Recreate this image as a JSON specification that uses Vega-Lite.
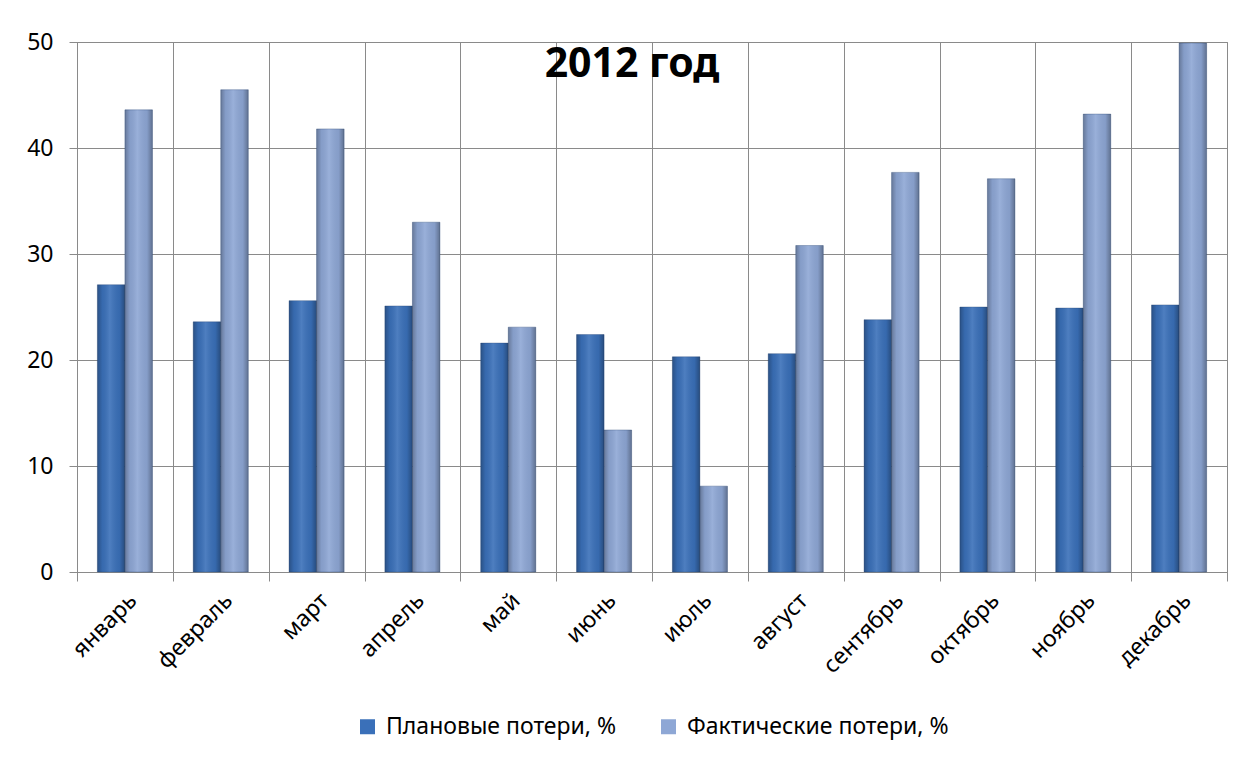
{
  "$schema": "https://vega.github.io/schema/vega-lite/v6.json",
  "autosize": {"type": "none"},
  "width": 1150,
  "height": 530,
  "padding": {"left": 77, "top": 42, "right": 32, "bottom": 188},
  "background": "white",
  "title": {
    "text": "2012 год",
    "anchor": "middle",
    "font": "Noto Sans",
    "fontSize": 41,
    "fontWeight": "bold",
    "color": "#000000",
    "dx": -20,
    "dy": 59
  },
  "data": {
    "values": [
      {"month": "январь", "series": "Плановые потери, %", "value": 27.1},
      {"month": "январь", "series": "Фактические потери, %", "value": 43.6},
      {"month": "февраль", "series": "Плановые потери, %", "value": 23.6},
      {"month": "февраль", "series": "Фактические потери, %", "value": 45.5},
      {"month": "март", "series": "Плановые потери, %", "value": 25.6},
      {"month": "март", "series": "Фактические потери, %", "value": 41.8},
      {"month": "апрель", "series": "Плановые потери, %", "value": 25.1},
      {"month": "апрель", "series": "Фактические потери, %", "value": 33.0},
      {"month": "май", "series": "Плановые потери, %", "value": 21.6},
      {"month": "май", "series": "Фактические потери, %", "value": 23.1},
      {"month": "июнь", "series": "Плановые потери, %", "value": 22.4},
      {"month": "июнь", "series": "Фактические потери, %", "value": 13.4},
      {"month": "июль", "series": "Плановые потери, %", "value": 20.3},
      {"month": "июль", "series": "Фактические потери, %", "value": 8.1},
      {"month": "август", "series": "Плановые потери, %", "value": 20.6},
      {"month": "август", "series": "Фактические потери, %", "value": 30.8},
      {"month": "сентябрь", "series": "Плановые потери, %", "value": 23.8},
      {"month": "сентябрь", "series": "Фактические потери, %", "value": 37.7},
      {"month": "октябрь", "series": "Плановые потери, %", "value": 25.0},
      {"month": "октябрь", "series": "Фактические потери, %", "value": 37.1},
      {"month": "ноябрь", "series": "Плановые потери, %", "value": 24.9},
      {"month": "ноябрь", "series": "Фактические потери, %", "value": 43.2},
      {"month": "декабрь", "series": "Плановые потери, %", "value": 25.2},
      {"month": "декабрь", "series": "Фактические потери, %", "value": 49.9}
    ]
  },
  "encoding": {
    "x": {
      "field": "month",
      "type": "nominal",
      "sort": ["январь", "февраль", "март", "апрель", "май", "июнь", "июль", "август", "сентябрь", "октябрь", "ноябрь", "декабрь"],
      "scale": {"paddingInner": 0, "paddingOuter": 0},
      "axis": {
        "title": null,
        "tickBand": "extent",
        "grid": true,
        "gridColor": "#8a8a8a",
        "gridWidth": 1,
        "domainColor": "#8a8a8a",
        "tickColor": "#8a8a8a",
        "tickSize": 9,
        "labelAngle": -45,
        "labelAlign": "right",
        "labelBaseline": "top",
        "labelFont": "Noto Sans",
        "labelFontSize": 23,
        "labelColor": "#000000",
        "labelPadding": 8
      }
    },
    "xOffset": {
      "field": "series",
      "type": "nominal",
      "sort": ["Плановые потери, %", "Фактические потери, %"],
      "scale": {"paddingInner": 0, "paddingOuter": 0.74}
    },
    "y": {
      "field": "value",
      "type": "quantitative",
      "scale": {"domain": [0, 50], "nice": false},
      "axis": {
        "title": null,
        "values": [0, 10, 20, 30, 40, 50],
        "grid": true,
        "gridColor": "#8a8a8a",
        "gridWidth": 1,
        "domainColor": "#8a8a8a",
        "tickColor": "#8a8a8a",
        "tickSize": 8,
        "labelFont": "Noto Sans",
        "labelFontSize": 23,
        "labelColor": "#000000",
        "labelPadding": 16
      }
    }
  },
  "layer": [
    {
      "mark": {"type": "bar", "cornerRadius": 0, "stroke": "#2b4a78", "strokeWidth": 0.6, "strokeOpacity": 0.6},
      "encoding": {
        "color": {
          "field": "series",
          "type": "nominal",
          "sort": ["Плановые потери, %", "Фактические потери, %"],
          "scale": {"range": ["#3A70B9", "#8EA7D5"]},
          "legend": {
            "title": null,
            "orient": "bottom",
            "direction": "horizontal",
            "symbolType": "square",
            "symbolSize": 225,
            "symbolStrokeWidth": 0,
            "symbolOpacity": 1,
            "labelFont": "Noto Sans",
            "labelFontSize": 23,
            "labelColor": "#000000",
            "labelOffset": 7,
            "columnPadding": 40,
            "labelLimit": 400,
            "offset": 37
          }
        }
      }
    },
    {
      "mark": {
        "type": "bar",
        "fill": {
          "gradient": "linear",
          "x1": 0, "y1": 0, "x2": 1, "y2": 0,
          "stops": [
            {"offset": 0, "color": "rgba(0,0,0,0.28)"},
            {"offset": 0.18, "color": "rgba(0,0,0,0.06)"},
            {"offset": 0.45, "color": "rgba(255,255,255,0.10)"},
            {"offset": 0.8, "color": "rgba(0,0,0,0.06)"},
            {"offset": 1, "color": "rgba(0,0,0,0.32)"}
          ]
        }
      }
    }
  ],
  "config": {
    "view": {"stroke": "#8a8a8a", "strokeWidth": 1},
    "legend": {"layout": {"bottom": {"anchor": "middle"}}}
  }
}
